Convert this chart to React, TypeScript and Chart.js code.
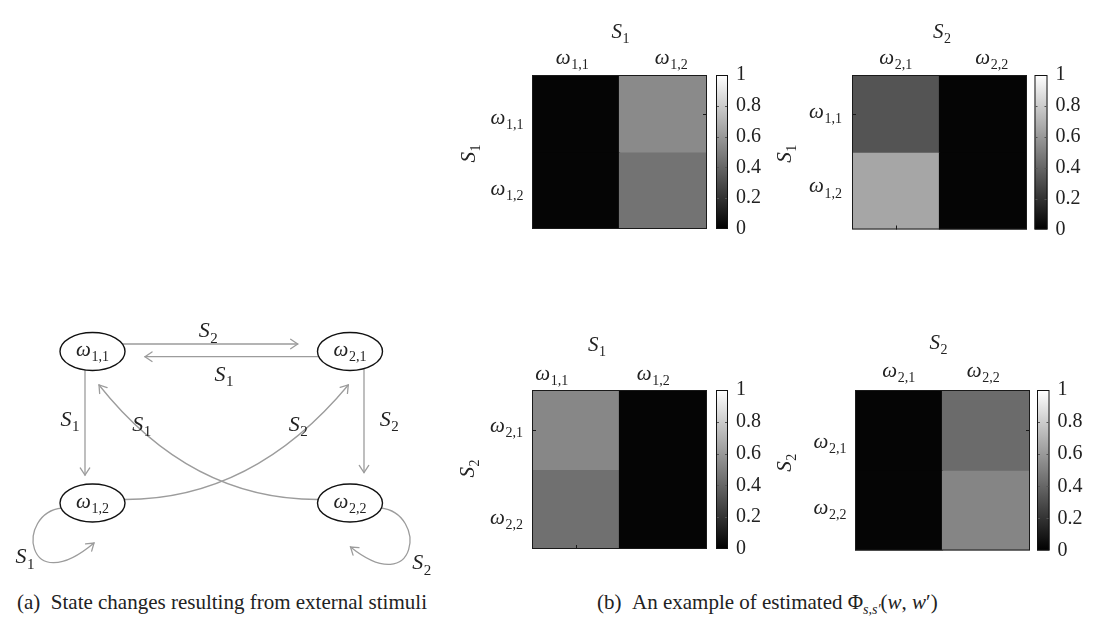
import React, { useEffect, useRef } from "react";
import { Chart, registerables } from "chart.js";
Chart.register(...registerables);

const SERIF = '"Liberation Serif", "DejaVu Serif", serif';
const EDGE = "#9c9c9c";
const INK = "#222";

// ---------------- data ----------------
// Panel (S1 -> S1)
const p1Cols = ["1,1", "1,2"];
const p1Rows = ["1,1", "1,2"];
const p1Row1 = [0.02, 0.54];
const p1Row2 = [0.02, 0.45];
// Panel (S1 -> S2)
const p2Cols = ["2,1", "2,2"];
const p2Rows = ["1,1", "1,2"];
const p2Row1 = [0.33, 0.02];
const p2Row2 = [0.65, 0.02];
// Panel (S2 -> S1)
const p3Cols = ["1,1", "1,2"];
const p3Rows = ["2,1", "2,2"];
const p3Row1 = [0.53, 0.02];
const p3Row2 = [0.44, 0.02];
// Panel (S2 -> S2)
const p4Cols = ["2,1", "2,2"];
const p4Rows = ["2,1", "2,2"];
const p4Row1 = [0.02, 0.42];
const p4Row2 = [0.02, 0.52];

const cbTicks = [0, 0.2, 0.4, 0.6, 0.8, 1];

// state diagram
const nodeSubs = ["1,1", "2,1", "1,2", "2,2"];

// ---------------- layout ----------------
const diagramNodes = [
  [92.5, 51.5],
  [350, 51.5],
  [92.5, 203],
  [350, 203],
];
const NODE_RX = 32.5;
const NODE_RY = 19;

const straightEdges = [
  { from: [123, 44], to: [297.7, 44], sub: "2", at: [208.3, 30] },
  { from: [318.5, 56.7], to: [145, 56.7], sub: "1", at: [224, 73.3] },
  { from: [85, 70], to: [85, 175], sub: "1", at: [70, 118.3] },
  { from: [364, 69], to: [364, 172.5], sub: "2", at: [389.3, 118.3] },
];
const curvedEdges = [
  { pts: [[125, 199.5], [253, 199.5], [348.3, 85]], sub: "2", at: [298.3, 123.3] },
  { pts: [[317.5, 199.5], [190, 199.5], [99, 85]], sub: "1", at: [141.7, 123.3] },
  { pts: [[62, 208], [15, 213], [25, 301], [94, 243]], sub: "1", at: [25, 256] },
  { pts: [[380.5, 208], [428, 213], [418, 301], [350.5, 247]], sub: "2", at: [421.7, 262] },
];

type PanelCfg = {
  left: number; top: number; width: number; height: number;
  area: [number, number, number, number];
  title: string; ytitle: string;
  cols: string[]; rows: string[]; values: number[][];
  titleDx: number; titleDy: number; colDx: number[]; colDy: number;
  rowDx: number; rowDy: number[]; yTitleDx: number; yTitleDy: number;
  cbGap: number; cbWidth: number; marks: string[];
};

const panels: PanelCfg[] = [
  {
    left: 450, top: 0, width: 320, height: 270, area: [532, 75, 707, 248],
    title: "1", ytitle: "1", cols: p1Cols, rows: p1Rows, values: [p1Row1, p1Row2],
    titleDx: 1, titleDy: -44, colDx: [-3.5, 8], colDy: -16, rowDx: -25, rowDy: [6, 0],
    yTitleDx: -64, yTitleDy: 1.5, cbGap: 9, cbWidth: 12, marks: ["right"],
  },
  {
    left: 770, top: 0, width: 328, height: 270, area: [852, 75, 1027, 248],
    title: "2", ytitle: "1", cols: p2Cols, rows: p2Rows, values: [p2Row1, p2Row2],
    titleDx: 2.5, titleDy: -44, colDx: [0, 8.5], colDy: -16, rowDx: -26.5, rowDy: [0, -3],
    yTitleDx: -67.5, yTitleDy: 1.5, cbGap: 7.5, cbWidth: 13, marks: ["left", "bottom"],
  },
  {
    left: 450, top: 330, width: 320, height: 260, area: [532, 390, 707, 565],
    title: "1", ytitle: "2", cols: p3Cols, rows: p3Rows, values: [p3Row1, p3Row2],
    titleDx: -22.5, titleDy: -46, colDx: [-24, -10], colDy: -14.5, rowDx: -25.5, rowDy: [-2, 10],
    yTitleDx: -64.5, yTitleDy: -1, cbGap: 9, cbWidth: 12, marks: ["left", "bottom"],
  },
  {
    left: 770, top: 330, width: 328, height: 260, area: [855, 390, 1030, 565],
    title: "2", ytitle: "2", cols: p4Cols, rows: p4Rows, values: [p4Row1, p4Row2],
    titleDx: -4, titleDy: -48, colDx: [0, -3], colDy: -17.5, rowDx: -25, rowDy: [13, -1],
    yTitleDx: -71, yTitleDy: -7.5, cbGap: 7, cbWidth: 12.5, marks: ["right"],
  },
];

const CB_AXIS_W = 55;
const LABEL_SIZE = 21;

function gray(v: number) {
  const g = Math.round(255 * v);
  return `rgb(${g},${g},${g})`;
}

function drawSub(ctx: CanvasRenderingContext2D, cx: number, cy: number, main: string, sub: string, size: number) {
  const mainFont = `italic ${size}px ${SERIF}`;
  const subSize = Math.round(size * 0.68);
  const subFont = `${subSize}px ${SERIF}`;
  ctx.font = mainFont;
  const w1 = ctx.measureText(main).width;
  ctx.font = subFont;
  const w2 = ctx.measureText(sub).width;
  const gap = 0.5;
  const total = w1 + gap + w2;
  const x0 = cx - total / 2;
  const base = cy + size * (main === "S" ? 0.33 : 0.22);
  ctx.textAlign = "left";
  ctx.textBaseline = "alphabetic";
  ctx.font = mainFont;
  ctx.fillText(main, x0, base);
  ctx.font = subFont;
  ctx.fillText(sub, x0 + w1 + gap, base + size * 0.24);
}

function arrowHead(ctx: CanvasRenderingContext2D, tip: number[], from: number[]) {
  const dx = tip[0] - from[0];
  const dy = tip[1] - from[1];
  const len = Math.hypot(dx, dy) || 1;
  const ux = dx / len, uy = dy / len;
  const L = 8.5, th = (34 * Math.PI) / 180;
  const c = Math.cos(th), s = Math.sin(th);
  const a1 = [tip[0] - L * (ux * c - uy * s), tip[1] - L * (uy * c + ux * s)];
  const a2 = [tip[0] - L * (ux * c + uy * s), tip[1] - L * (uy * c - ux * s)];
  ctx.beginPath();
  ctx.moveTo(a1[0], a1[1]);
  ctx.lineTo(tip[0], tip[1]);
  ctx.lineTo(a2[0], a2[1]);
  ctx.stroke();
}

const diagramPlugin = {
  id: "diagram",
  afterDatasetsDraw(chart: any) {
    const ctx: CanvasRenderingContext2D = chart.ctx;
    const xs = chart.scales.x, ys = chart.scales.y;
    const P = (p: number[]) => [xs.getPixelForValue(p[0]), ys.getPixelForValue(p[1])];
    ctx.save();
    ctx.strokeStyle = EDGE;
    ctx.lineWidth = 1.3;
    ctx.lineCap = "round";
    straightEdges.forEach((e) => {
      const a = P(e.from), b = P(e.to);
      ctx.beginPath();
      ctx.moveTo(a[0], a[1]);
      ctx.lineTo(b[0], b[1]);
      ctx.stroke();
      arrowHead(ctx, b, a);
    });
    curvedEdges.forEach((e) => {
      const q = e.pts.map(P);
      ctx.beginPath();
      ctx.moveTo(q[0][0], q[0][1]);
      if (q.length === 3) ctx.quadraticCurveTo(q[1][0], q[1][1], q[2][0], q[2][1]);
      else ctx.bezierCurveTo(q[1][0], q[1][1], q[2][0], q[2][1], q[3][0], q[3][1]);
      ctx.stroke();
      arrowHead(ctx, q[q.length - 1], q[q.length - 2]);
    });
    // nodes
    const meta = chart.getDatasetMeta(0);
    const rx = Math.abs(xs.getPixelForValue(NODE_RX) - xs.getPixelForValue(0));
    const ry = Math.abs(ys.getPixelForValue(NODE_RY) - ys.getPixelForValue(0));
    meta.data.forEach((pt: any, i: number) => {
      ctx.beginPath();
      ctx.ellipse(pt.x, pt.y, rx, ry, 0, 0, Math.PI * 2);
      ctx.fillStyle = "#fff";
      ctx.fill();
      ctx.strokeStyle = "#111";
      ctx.lineWidth = 1.4;
      ctx.stroke();
      ctx.fillStyle = INK;
      drawSub(ctx, pt.x, pt.y, "ω", nodeSubs[i], 21);
    });
    ctx.fillStyle = INK;
    [...straightEdges, ...curvedEdges].forEach((e) => {
      const p = P(e.at);
      drawSub(ctx, p[0], p[1], "S", e.sub, 22);
    });
    ctx.restore();
  },
};

function heatPlugin(cfg: PanelCfg) {
  return {
    id: "heatDecor",
    afterDatasetsDraw(chart: any) {
      const ctx: CanvasRenderingContext2D = chart.ctx;
      const a = chart.chartArea;
      const xs = chart.scales.x, ys = chart.scales.y, cb = chart.scales.cb;
      ctx.save();
      ctx.strokeStyle = "#1a1a1a";
      ctx.lineWidth = 1;
      ctx.strokeRect(a.left + 0.5, a.top + 0.5, a.right - a.left - 1, a.bottom - a.top - 1);
      const mk = 4;
      cfg.marks.forEach((m) => {
        ctx.beginPath();
        if (m === "right") {
          const y = Math.round(ys.getPixelForValue(0.5)) + 0.5;
          ctx.moveTo(a.right, y);
          ctx.lineTo(a.right - mk, y);
        } else if (m === "left") {
          const y = Math.round(ys.getPixelForValue(0.5)) + 0.5;
          ctx.moveTo(a.left, y);
          ctx.lineTo(a.left + mk, y);
        } else {
          const x = Math.round(xs.getPixelForValue(0)) + 0.5;
          ctx.moveTo(x, a.bottom);
          ctx.lineTo(x, a.bottom - mk);
        }
        ctx.stroke();
      });
      // colour bar
      const bx = a.right + cfg.cbGap;
      const bw = cfg.cbWidth;
      const yTop = cb.getPixelForValue(1);
      const yBot = cb.getPixelForValue(0);
      const g = ctx.createLinearGradient(0, yBot, 0, yTop);
      g.addColorStop(0, "#000");
      g.addColorStop(1, "#fff");
      ctx.fillStyle = g;
      ctx.fillRect(bx, yTop, bw, yBot - yTop);
      ctx.strokeStyle = "#111";
      ctx.strokeRect(bx + 0.5, yTop + 0.5, bw - 1, yBot - yTop - 1);
      ctx.strokeStyle = "#555";
      cbTicks.forEach((t) => {
        if (t <= 0 || t >= 1) return;
        const y = Math.round(cb.getPixelForValue(t)) + 0.5;
        ctx.beginPath();
        ctx.moveTo(bx + 1, y);
        ctx.lineTo(bx + 3, y);
        ctx.moveTo(bx + bw - 1, y);
        ctx.lineTo(bx + bw - 3, y);
        ctx.stroke();
      });
      // labels
      ctx.fillStyle = INK;
      drawSub(ctx, (a.left + a.right) / 2 + cfg.titleDx, a.top + cfg.titleDy, "S", cfg.title, LABEL_SIZE);
      cfg.cols.forEach((c, i) => drawSub(ctx, xs.getPixelForValue(i) + cfg.colDx[i], a.top + cfg.colDy, "ω", c, LABEL_SIZE));
      cfg.rows.forEach((r, i) => drawSub(ctx, a.left + cfg.rowDx, ys.getPixelForValue(i + 0.5) + cfg.rowDy[i], "ω", r, LABEL_SIZE));
      ctx.save();
      ctx.translate(a.left + cfg.yTitleDx, (a.top + a.bottom) / 2 + cfg.yTitleDy);
      ctx.rotate(-Math.PI / 2);
      drawSub(ctx, 0, 0, "S", cfg.ytitle, LABEL_SIZE);
      ctx.restore();
      ctx.restore();
    },
  };
}

function HeatPanel({ cfg }: { cfg: PanelCfg }) {
  const ref = useRef<HTMLCanvasElement>(null);
  useEffect(() => {
    const [l, t, r, b] = cfg.area;
    const chart = new Chart(ref.current as HTMLCanvasElement, {
      type: "bar",
      data: {
        labels: cfg.cols,
        datasets: cfg.rows.map((row, i) => ({
          label: row,
          data: cfg.values[i].map(() => [i, i + 1]) as any,
          backgroundColor: cfg.values[i].map(gray),
          borderWidth: 0,
          inflateAmount: 0.6,
          grouped: false,
          barPercentage: 1,
          categoryPercentage: 1,
        })),
      },
      options: {
        animation: false,
        responsive: false,
        events: [],
        layout: {
          padding: {
            left: l - cfg.left,
            top: t - cfg.top,
            right: cfg.width - (r - cfg.left) - CB_AXIS_W,
            bottom: cfg.top + cfg.height - b,
          },
        },
        plugins: { legend: { display: false }, tooltip: { enabled: false } },
        scales: {
          x: { display: false },
          y: { display: false, min: 0, max: 2, reverse: true },
          cb: {
            type: "linear",
            position: "right",
            min: 0,
            max: 1,
            grid: { display: false, drawTicks: false },
            border: { display: false },
            afterFit: (s: any) => {
              s.width = CB_AXIS_W;
            },
            ticks: {
              stepSize: 0.2,
              padding: cfg.cbGap + cfg.cbWidth + 8,
              color: INK,
              font: { family: SERIF, size: 20 },
              callback: (v: any) => String(Math.round(Number(v) * 10) / 10),
            },
          },
        } as any,
      },
      plugins: [heatPlugin(cfg)],
    } as any);
    return () => chart.destroy();
  }, []);
  return (
    <canvas
      ref={ref}
      width={cfg.width}
      height={cfg.height}
      style={{ position: "absolute", left: cfg.left, top: cfg.top, width: cfg.width, height: cfg.height }}
    />
  );
}

function Diagram() {
  const ref = useRef<HTMLCanvasElement>(null);
  useEffect(() => {
    const chart = new Chart(ref.current as HTMLCanvasElement, {
      type: "scatter",
      data: {
        datasets: [
          {
            label: "states",
            data: diagramNodes.map((p) => ({ x: p[0], y: p[1] })),
            pointRadius: 0,
          },
        ],
      },
      options: {
        animation: false,
        responsive: false,
        events: [],
        layout: { padding: 0 },
        plugins: { legend: { display: false }, tooltip: { enabled: false } },
        scales: {
          x: { type: "linear", min: 0, max: 440, display: false },
          y: { type: "linear", min: 0, max: 290, reverse: true, display: false },
        },
      },
      plugins: [diagramPlugin],
    } as any);
    return () => chart.destroy();
  }, []);
  return (
    <canvas
      ref={ref}
      width={440}
      height={290}
      style={{ position: "absolute", left: 0, top: 300, width: 440, height: 290 }}
    />
  );
}

export default function App() {
  const cap: React.CSSProperties = {
    position: "absolute",
    top: 590,
    fontFamily: SERIF,
    fontSize: 21,
    lineHeight: "24px",
    whiteSpace: "nowrap",
    color: INK,
  };
  return (
    <div style={{ position: "fixed", left: 0, top: 0, width: 1098, height: 624, background: "#fff", overflow: "hidden" }}>
      <Diagram />
      {panels.map((p, i) => (
        <HeatPanel key={i} cfg={p} />
      ))}
      <div style={{ ...cap, left: 17 }}>(a)&nbsp;&nbsp;State changes resulting from external stimuli</div>
      <div style={{ ...cap, left: 597 }}>
        (b)&nbsp;&nbsp;An example of estimated Φ
        <sub style={{ fontSize: 14, fontStyle: "italic", verticalAlign: "-5px", lineHeight: 0 }}>s,s′</sub>
        (<i>w</i>, <i>w</i>′)
      </div>
    </div>
  );
}
